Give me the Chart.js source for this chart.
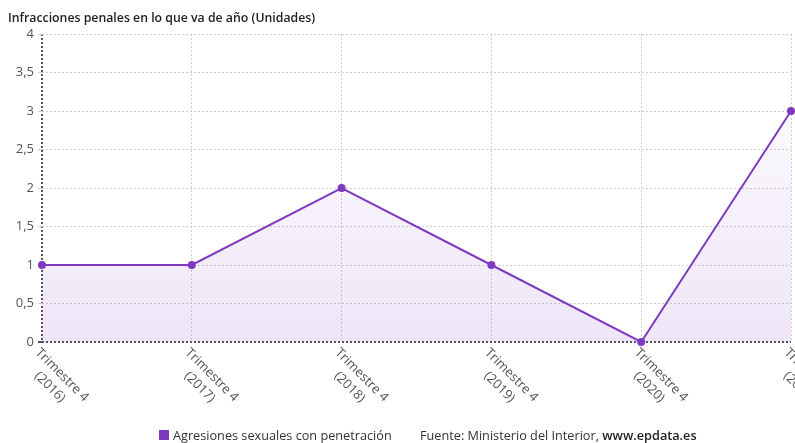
<!DOCTYPE html>
<html>
<head>
<meta charset="utf-8">
<script src="https://cdn.jsdelivr.net/npm/chart.js@4"></script>
<style>
  html, body { margin: 0; padding: 0; background: #fff; }
  #wrap { position: relative; width: 795px; height: 443px; }
  canvas { display: block; }
</style>
</head>
<body>
<div id="wrap"><canvas id="c" width="795" height="443"></canvas></div>
<script>
const titleText = "Infracciones penales en lo que va de año (Unidades)";
const categories = [
  ["Trimestre 4", "(2016)"],
  ["Trimestre 4", "(2017)"],
  ["Trimestre 4", "(2018)"],
  ["Trimestre 4", "(2019)"],
  ["Trimestre 4", "(2020)"],
  ["Trimestre 4", "(2021)"]
];
const seriesName = "Agresiones sexuales con penetración";
const seriesValues = [1, 1, 2, 1, 0, 3];
const yTicks = [0, 0.5, 1, 1.5, 2, 2.5, 3, 3.5, 4];
const sourceText = "Fuente: Ministerio del Interior, ";
const sourceSite = "www.epdata.es";

const PURPLE = "#7d3ac1";
const FONT = "'Open Sans', 'Noto Sans', sans-serif";

const customDraw = {
  id: "customDraw",
  afterDraw(chart) {
    const ctx = chart.ctx;
    const xs = chart.scales.x;
    const area = chart.chartArea;
    ctx.save();
    // title
    ctx.fillStyle = "#222";
    ctx.font = "600 12.3px " + FONT;
    ctx.textBaseline = "alphabetic";
    ctx.textAlign = "left";
    ctx.fillText(titleText, 8, 22);
    // rotated x labels
    ctx.font = "13px " + FONT;
    ctx.fillStyle = "#555";
    categories.forEach((lab, i) => {
      const x = xs.getPixelForValue(i);
      const y = area.bottom + 4;
      ctx.save();
      ctx.translate(x, y);
      ctx.rotate(Math.PI / 4);
      const widths = lab.map(t => ctx.measureText(t).width);
      const maxW = Math.max(...widths);
      ctx.textAlign = "center";
      ctx.textBaseline = "top";
      lab.forEach((t, j) => {
        ctx.fillText(t, maxW / 2, j * 17);
      });
      ctx.restore();
    });
    // legend
    ctx.fillStyle = PURPLE;
    ctx.fillRect(159, 430, 10, 10);
    ctx.font = "12.7px " + FONT;
    ctx.fillStyle = "#333";
    ctx.textAlign = "left";
    ctx.textBaseline = "middle";
    ctx.fillText(seriesName, 173, 436);
    ctx.fillText(sourceText, 420, 436);
    const w = ctx.measureText(sourceText).width;
    ctx.font = "600 12.7px " + FONT;
    ctx.fillStyle = "#222";
    ctx.fillText(sourceSite, 420 + w, 436);
    ctx.restore();
  }
};

new Chart(document.getElementById("c"), {
  type: "line",
  data: {
    labels: categories,
    datasets: [{
      label: seriesName,
      data: seriesValues,
      borderColor: PURPLE,
      borderWidth: 2,
      pointBackgroundColor: PURPLE,
      pointBorderColor: PURPLE,
      pointBorderWidth: 0,
      pointRadius: 4,
      tension: 0,
      fill: "origin",
      clip: false,
      backgroundColor: (c) => {
        const a = c.chart.chartArea;
        if (!a) return "rgba(125,58,193,0.08)";
        const g = c.chart.ctx.createLinearGradient(0, a.top, 0, a.bottom);
        g.addColorStop(0, "rgba(125,58,193,0.0)");
        g.addColorStop(1, "rgba(125,58,193,0.13)");
        return g;
      }
    }]
  },
  options: {
    responsive: false,
    animation: false,
    layout: { padding: { left: 0, right: 0, top: 34, bottom: 101 } },
    plugins: { legend: { display: false }, title: { display: false }, tooltip: { enabled: false } },
    scales: {
      x: {
        offset: false,
        ticks: { display: false },
        border: { display: false, dash: [2, 2] },
        grid: {
          drawTicks: false,
          color: (c) => c.index === 0 ? "#555" : "#cfcfcf",
          lineWidth: (c) => c.index === 0 ? 2 : 1
        }
      },
      y: {
        min: 0, max: 4,
        afterFit: (s) => { s.width = 42; },
        afterBuildTicks: (s) => { s.ticks = yTicks.map(v => ({ value: v })); },
        ticks: {
          font: { family: FONT, size: 13 },
          color: "#555",
          padding: 4,
          callback: (v) => String(v).replace(".", ",")
        },
        border: { display: false, dash: [2, 2] },
        grid: {
          drawTicks: true,
          tickLength: 4,
          color: (c) => c.tick && c.tick.value === 0 ? "#555" : "#cfcfcf",
          lineWidth: (c) => c.tick && c.tick.value === 0 ? 2 : 1
        }
      }
    }
  },
  plugins: [customDraw]
});
</script>
</body>
</html>
